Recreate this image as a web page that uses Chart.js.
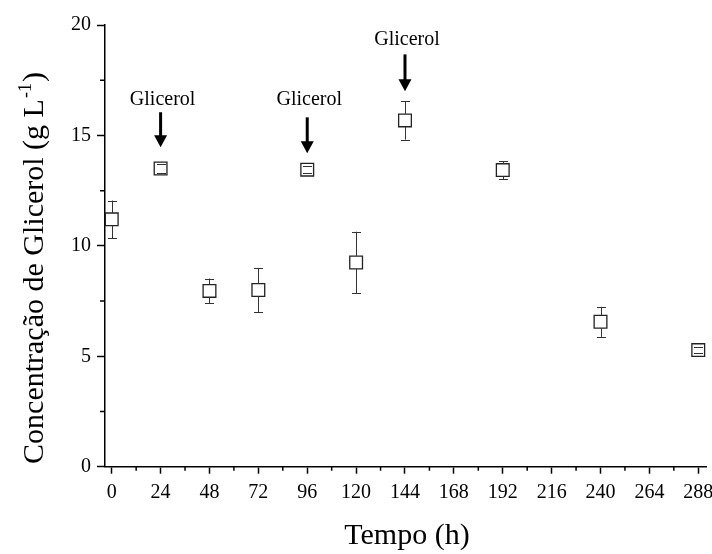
<!DOCTYPE html>
<html>
<head>
<meta charset="utf-8">
<script src="https://cdn.jsdelivr.net/npm/chart.js@4.4.0/dist/chart.umd.min.js"></script>
<style>
  html, body { margin: 0; padding: 0; background: #ffffff; }
  #wrap { width: 712px; height: 554px; }
</style>
</head>
<body>
<div id="wrap"><canvas id="c" width="712" height="554"></canvas></div>
<script>
// ---- data ----
const times    = [0, 24, 48, 72, 96, 120, 144, 192, 240, 288];
const glycerol = [11.2, 13.5, 7.96, 8.0, 13.45, 9.25, 15.68, 13.43, 6.56, 5.28];
const errors   = [0.85, 0.2, 0.56, 1.0, 0.15, 1.39, 0.87, 0.41, 0.68, 0.15];
const xTicks   = [0, 24, 48, 72, 96, 120, 144, 168, 192, 216, 240, 264, 288];
const yTicks   = [0, 5, 10, 15, 20];
const feedTimes  = [24, 96, 144];
const feedLabel  = 'Glicerol';
const feedTextY  = [16.6, 16.6, 19.34];
const feedArrowTop = [16.05, 15.82, 18.67];
const feedArrowTip = [14.47, 14.19, 17.0];

const FONT = '"Liberation Serif", "Times New Roman", serif';
const noPad = () => ({ left: 0, top: 0, right: 0, bottom: 0 });

const overlay = {
  id: 'overlay',
  afterDatasetsDraw(chart) {
    const { ctx, scales: { x, y } } = chart;
    const half = 9 * Math.SQRT1_2;
    ctx.save();
    // error bars
    ctx.strokeStyle = '#333';
    ctx.lineWidth = 1;
    times.forEach((t, i) => {
      const px = Math.round(x.getPixelForValue(t)) + 0.5;
      const pc = y.getPixelForValue(glycerol[i]);
      const top = y.getPixelForValue(glycerol[i] + errors[i]);
      const bot = y.getPixelForValue(glycerol[i] - errors[i]);
      ctx.beginPath();
      if (pc - top > half) { ctx.moveTo(px, top); ctx.lineTo(px, pc - half); }
      if (bot - pc > half) { ctx.moveTo(px, pc + half); ctx.lineTo(px, bot); }
      ctx.moveTo(px - 4.5, Math.round(top) + 0.5); ctx.lineTo(px + 4.5, Math.round(top) + 0.5);
      ctx.moveTo(px - 4.5, Math.round(bot) + 0.5); ctx.lineTo(px + 4.5, Math.round(bot) + 0.5);
      ctx.stroke();
    });
    // minor ticks
    ctx.strokeStyle = '#000';
    ctx.lineWidth = 1.5;
    ctx.beginPath();
    const yb = y.bottom;
    for (let v = 12; v < 288; v += 24) {
      const px = x.getPixelForValue(v);
      ctx.moveTo(px, yb); ctx.lineTo(px, yb + 4);
    }
    const xl = x.left;
    for (let v = 2.5; v < 20; v += 5) {
      const py = y.getPixelForValue(v);
      ctx.moveTo(xl, py); ctx.lineTo(xl - 5, py);
    }
    ctx.stroke();
    // feed annotations
    ctx.fillStyle = '#000';
    ctx.font = '20px ' + FONT;
    ctx.textAlign = 'center';
    ctx.textBaseline = 'middle';
    feedTimes.forEach((t, i) => {
      const px = x.getPixelForValue(t);
      const ty = y.getPixelForValue(feedTextY[i]);
      const a0 = y.getPixelForValue(feedArrowTop[i]);
      const a1 = y.getPixelForValue(feedArrowTip[i]);
      ctx.fillText(feedLabel, px + 2, ty);
      ctx.lineWidth = 3;
      ctx.beginPath();
      ctx.moveTo(px, a0); ctx.lineTo(px, a1 - 10);
      ctx.stroke();
      ctx.beginPath();
      ctx.moveTo(px - 6.5, a1 - 12);
      ctx.lineTo(px + 6.5, a1 - 12);
      ctx.lineTo(px, a1);
      ctx.closePath();
      ctx.fill();
    });
    ctx.restore();
  },
  afterDraw(chart) {
    const { ctx } = chart;
    ctx.save();
    ctx.fillStyle = '#000';
    // x title
    ctx.font = '30px ' + FONT;
    ctx.textAlign = 'center';
    ctx.textBaseline = 'alphabetic';
    ctx.fillText('Tempo (h)', 407, 544);
    // y title with superscript
    ctx.translate(43, 268);
    ctx.rotate(-Math.PI / 2);
    const main = 'Concentração de Glicerol (g L';
    const sup = '-1';
    const close = ')';
    ctx.font = '30px ' + FONT;
    const wMain = ctx.measureText(main).width;
    const wClose = ctx.measureText(close).width;
    ctx.font = '18px ' + FONT;
    const wSup = ctx.measureText(sup).width;
    const total = wMain + wSup + wClose + 2;
    let cx = -total / 2;
    ctx.textAlign = 'left';
    ctx.font = '30px ' + FONT;
    ctx.fillText(main, cx, 0);
    cx += wMain + 1;
    ctx.font = '18px ' + FONT;
    ctx.fillText(sup, cx, -12);
    cx += wSup + 1;
    ctx.font = '30px ' + FONT;
    ctx.fillText(close, cx, 0);
    ctx.restore();
  }
};

new Chart(document.getElementById('c'), {
  type: 'scatter',
  data: {
    datasets: [{
      data: times.map((t, i) => ({ x: t, y: glycerol[i] })),
      pointStyle: 'rect',
      pointRadius: 9,
      pointHoverRadius: 9,
      pointBackgroundColor: '#ffffff',
      pointBorderColor: '#222',
      pointBorderWidth: 1.3,
      showLine: false,
      clip: false
    }]
  },
  options: {
    responsive: false,
    animation: false,
    devicePixelRatio: 1,
    layout: { autoPadding: false, padding: { top: 25, right: 6, left: 0, bottom: 0 } },
    plugins: { legend: { display: false }, tooltip: { enabled: false } },
    scales: {
      x: {
        type: 'linear',
        min: -3.3,
        max: 291.8,
        afterBuildTicks: s => { s.ticks = xTicks.map(v => ({ value: v })); },
        afterFit: s => { s.height = 87.3; s.paddingLeft = 0; s.paddingRight = 0; s.getPadding = noPad; },
        border: { display: true, color: '#000', width: 1.5 },
        grid: { drawOnChartArea: false, drawTicks: true, tickLength: 7, tickColor: '#000', tickWidth: 1.5 },
        ticks: { color: '#000', font: { family: FONT, size: 20 }, padding: 7, maxRotation: 0, autoSkip: false }
      },
      y: {
        type: 'linear',
        min: 0,
        max: 20,
        afterBuildTicks: s => { s.ticks = yTicks.map(v => ({ value: v })); },
        afterFit: s => { s.width = 105; s.paddingTop = 0; s.paddingBottom = 0; s.getPadding = noPad; },
        border: { display: true, color: '#000', width: 1.5 },
        grid: { drawOnChartArea: false, drawTicks: true, tickLength: 8, tickColor: '#000', tickWidth: 1.5 },
        ticks: { color: '#000', font: { family: FONT, size: 20 }, padding: 6 }
      }
    }
  },
  plugins: [overlay]
});
</script>
</body>
</html>
